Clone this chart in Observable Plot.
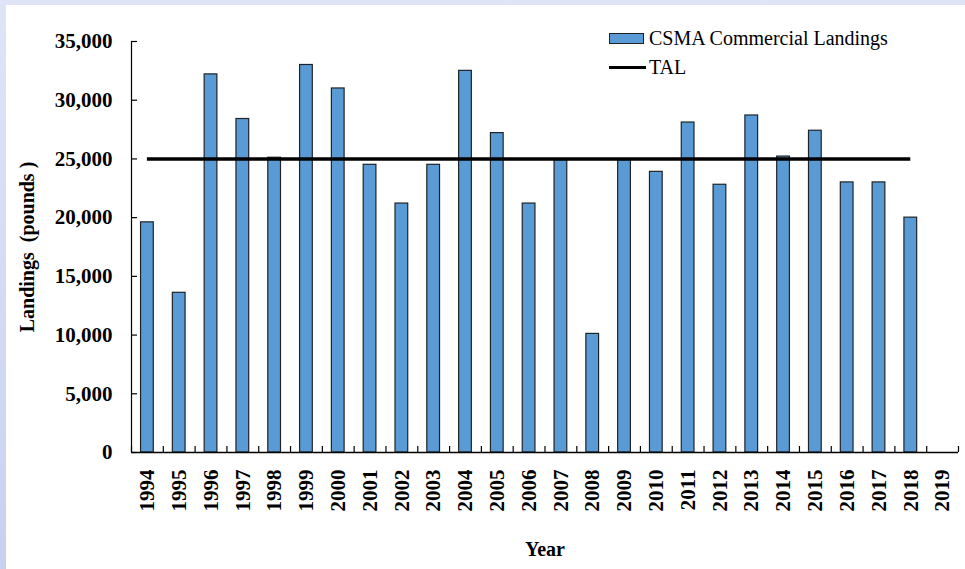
<!DOCTYPE html>
<html>
<head>
<meta charset="utf-8">
<script src="https://cdn.jsdelivr.net/npm/d3@7"></script>
<script src="https://cdn.jsdelivr.net/npm/@observablehq/plot@0.6"></script>
<style>
  html, body { margin: 0; padding: 0; }
  body {
    width: 965px; height: 569px; overflow: hidden; position: relative;
    background: linear-gradient(to bottom, #dfe4f7, #c9d1f0);
  }
  #panel { position: absolute; left: 6px; top: 5px; width: 959px; height: 564px; background: #ffffff; }
  #legend { position: absolute; left: 609px; top: 24px; font-family: 'Liberation Serif', serif; font-size: 20px; color: #000; }
  #legend span { font-family: 'Liberation Serif', serif; }
  .row { display: flex; align-items: center; height: 29px; white-space: pre; }
  .sw { width: 33px; height: 9px; background: #5b9bd5; border: 1px solid #222; margin-right: 5px; box-sizing: content-box;}
  .ln { width: 37px; height: 3.5px; background: #000; margin-right: 3px; }
</style>
</head>
<body>
<div id="panel"></div>
<div id="legend">
  <div class="row"><div class="sw"></div><span>CSMA Commercial Landings</span></div>
  <div class="row"><div class="ln"></div><span>TAL</span></div>
</div>
<script>
const years = [1994,1995,1996,1997,1998,1999,2000,2001,2002,2003,2004,2005,2006,2007,2008,2009,2010,2011,2012,2013,2014,2015,2016,2017,2018,2019];
const landings = [19600,13600,32200,28400,25100,33000,31000,24500,21200,24500,32500,27200,21200,24900,10100,24900,23900,28100,22800,28700,25200,27400,23000,23000,20000,null];
const TAL = 25000;
const yTicks = [0,5000,10000,15000,20000,25000,30000,35000];

const data = years.map((year, i) => ({year, value: landings[i]})).filter(d => d.value != null);
const edges = [years[0] - 0.5, ...years.map(y => y + 0.5)];
const barHalf = 0.2;

const fmt = d3.format(",");
const chart = Plot.plot({
  width: 959,
  height: 564,
  marginLeft: 125,
  marginRight: 7,
  marginTop: 36,
  marginBottom: 117,
  style: { fontFamily: "'Liberation Serif', 'Times New Roman', serif", background: "transparent", color: "#000" },
  x: { type: "linear", domain: [edges[0], edges[edges.length - 1]] },
  y: { domain: [0, 35000] },
  marks: [
    Plot.rectY(data, { x1: d => d.year - barHalf, x2: d => d.year + barHalf, y: "value", fill: "#5b9bd5", stroke: "#1f2328", strokeWidth: 1.2 }),
    Plot.ruleY([TAL], { x1: data[0].year, x2: data[data.length - 1].year, stroke: "#000", strokeWidth: 3.5 }),
    Plot.ruleX([edges[0]], { stroke: "#000", strokeWidth: 1.2 }),
    Plot.ruleY([0], { stroke: "#000", strokeWidth: 1.5 }),
    Plot.axisY({ ticks: yTicks, tickFormat: fmt, tickSize: 6, dx: 6, tickPadding: 19, fontSize: 21, fontWeight: "bold", label: null, strokeWidth: 1.2 }),
    Plot.axisX({ ticks: edges, tickFormat: () => "", tickSize: 6, dy: -6, label: null, strokeWidth: 1.2 }),
    Plot.axisX({ ticks: years, tickFormat: d => String(d), tickSize: 0, tickPadding: 17, tickRotate: -90, fontSize: 21, fontWeight: "bold", label: null }),
    Plot.text(["Year"], { frameAnchor: "bottom", dy: 97, fontSize: 20, fontWeight: "bold", lineAnchor: "middle" }),
    Plot.text(["Landings  (pounds )"], { frameAnchor: "left", dx: -104, rotate: -90, fontSize: 20, fontWeight: "bold", lineAnchor: "middle", textAnchor: "middle" })
  ]
});
chart.style.position = "absolute";
chart.style.left = "6px";
chart.style.top = "5px";
document.body.appendChild(chart);
</script>
</body>
</html>
